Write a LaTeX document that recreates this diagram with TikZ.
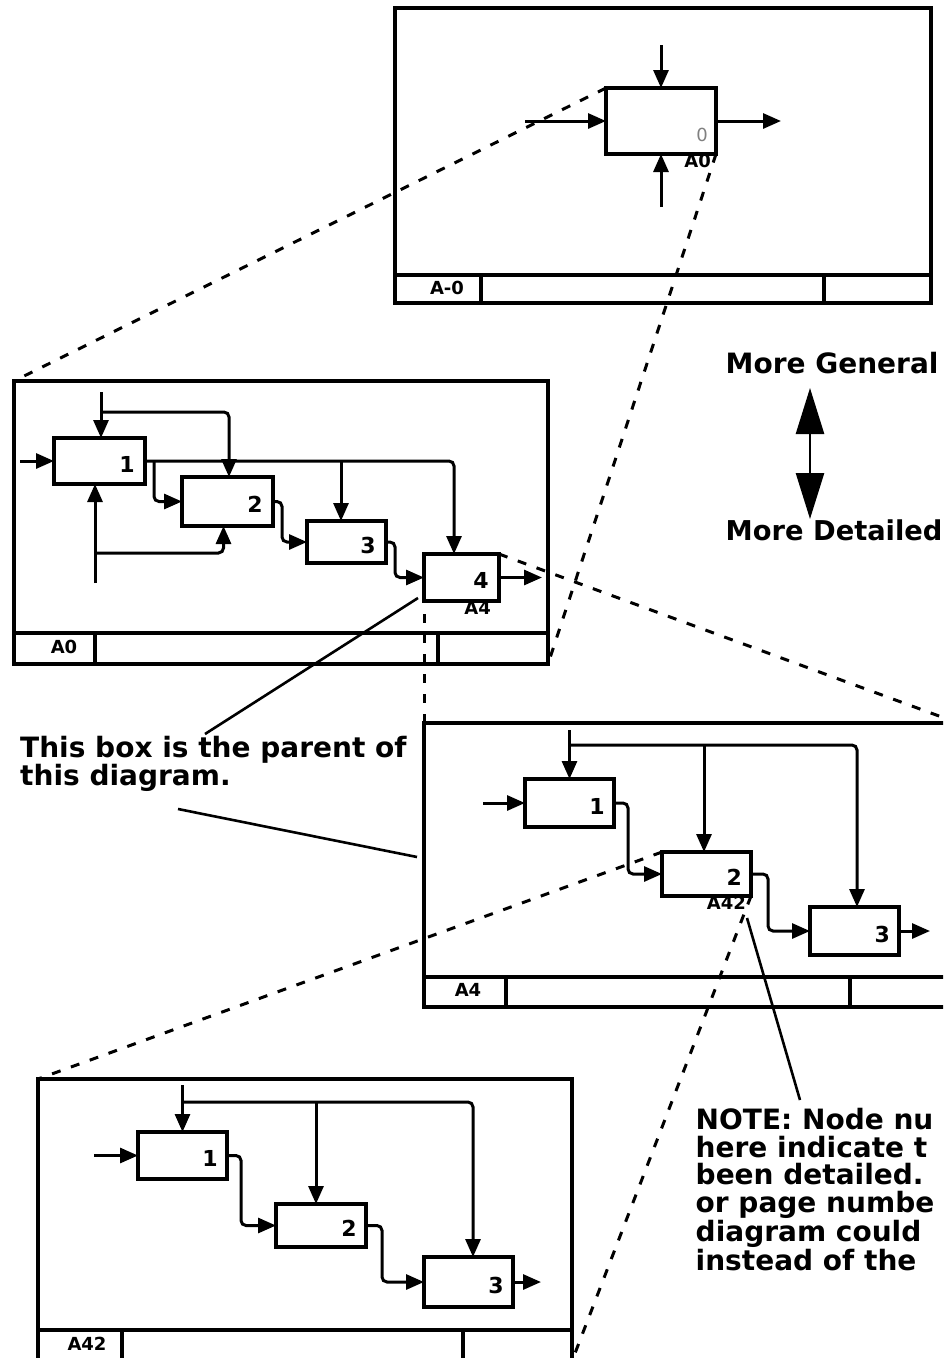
\documentclass[tikz,border=0pt]{standalone}
\usepackage{fontspec}
\setmainfont{DejaVu Sans}
\usetikzlibrary{arrows.meta}

\newcommand{\notefont}{\fontsize{28}{28}\selectfont\bfseries}
\newcommand{\numfont}{\fontsize{22}{22}\selectfont\bfseries}
\newcommand{\tagfont}{\fontsize{18}{18}\selectfont\bfseries}

\begin{document}
\begin{tikzpicture}[x=1pt, y=-1pt,
  sheet/.style={draw, line width=4pt, inner sep=0pt, outer sep=0pt},
  rule/.style={line width=4pt},
  fbox/.style={draw, line width=3.4pt, inner sep=0pt, outer sep=0pt},
  flow/.style={line width=3pt, rounded corners=5pt, -{Triangle[length=18pt,width=15pt]}},
  zoomline/.style={line width=3pt, dash pattern=on 9pt off 11pt},
  pointer/.style={line width=2.6pt},
  num/.style={font=\numfont, inner sep=0pt, anchor=east},
  tag/.style={font=\tagfont, inner sep=0pt},
  note/.style={font=\notefont, inner sep=0pt, anchor=base west}]
 \useasboundingbox (0,0) rectangle (943,1358);
 \clip (0,0) rectangle (943,1358);

 % the four sheets
 \node[sheet, minimum width=536pt, minimum height=295pt] (SHEETtop) at (663,155.5) {};
 \node[sheet, minimum width=534pt, minimum height=283pt] (SHEETA0) at (281,522.5) {};
 \node[sheet, minimum width=534pt, minimum height=284pt] (SHEETA4) at (691,865) {};
 \node[sheet, minimum width=534pt, minimum height=282pt] (SHEETA42) at (305,1220) {};

 \draw[rule] ([yshift=28pt]SHEETtop.south west) -- ([yshift=28pt]SHEETtop.south east);
 \draw[rule] ([xshift=86pt]SHEETtop.south west) -- ++(0,-28);
 \draw[rule] ([xshift=429pt]SHEETtop.south west) -- ++(0,-28);
 \draw[rule] ([yshift=31pt]SHEETA0.south west) -- ([yshift=31pt]SHEETA0.south east);
 \draw[rule] ([xshift=81pt]SHEETA0.south west) -- ++(0,-31);
 \draw[rule] ([xshift=424pt]SHEETA0.south west) -- ++(0,-31);
 \draw[rule] ([yshift=30pt]SHEETA4.south west) -- ([yshift=30pt]SHEETA4.south east);
 \draw[rule] ([xshift=82pt]SHEETA4.south west) -- ++(0,-30);
 \draw[rule] ([xshift=426pt]SHEETA4.south west) -- ++(0,-30);
 \draw[rule] ([yshift=31pt]SHEETA42.south west) -- ([yshift=31pt]SHEETA42.south east);
 \draw[rule] ([xshift=84pt]SHEETA42.south west) -- ++(0,-31);
 \draw[rule] ([xshift=425pt]SHEETA42.south west) -- ++(0,-31);

 \node[tag] (TAGtop) at (447,288) {A-0};
 \node[tag] (TAGA0) at (64,647) {A0};
 \node[tag] (TAGA4) at (468,990) {A4};
 \node[tag] (TAGA42) at (87,1344) {A42};

 % A-0 context box
 \node[fbox, minimum width=110pt, minimum height=66pt] (A0) at (661,121) {};
 \node[font=\fontsize{18}{18}\selectfont, text=gray, inner sep=0pt, anchor=east] (A0n) at ([xshift=-8pt,yshift=-14pt]A0.east) {0};
 \node[tag, anchor=north east] (A0c) at ([xshift=-5pt]A0.south east) {A0};
 \coordinate (A0in) at (525,121);
 \coordinate (A0out) at (781,121);
 \coordinate (A0ctl) at (661,45);
 \coordinate (A0mec) at (661,207);
 \draw[flow] (A0in) -- (A0.west);
 \draw[flow] (A0.east) -- (A0out);
 \draw[flow] (A0ctl) -- (A0.north);
 \draw[flow] (A0mec) -- (A0.south);

 % A0 diagram
 \node[fbox, minimum width=91pt, minimum height=46pt] (A1) at (99.5,461) {};
 \node[fbox, minimum width=91pt, minimum height=49pt] (A2) at (227.5,501.5) {};
 \node[fbox, minimum width=79pt, minimum height=42pt] (A3) at (346.5,542) {};
 \node[fbox, minimum width=75pt, minimum height=47pt] (A4) at (461.5,577.5) {};
 \node[num] (A1n) at ([xshift=-10pt,yshift=-3pt]A1.east) {1};
 \node[num] (A2n) at ([xshift=-10pt,yshift=-3pt]A2.east) {2};
 \node[num] (A3n) at ([xshift=-10pt,yshift=-3pt]A3.east) {3};
 \node[num] (A4n) at ([xshift=-10pt,yshift=-3pt]A4.east) {4};
 \node[tag, anchor=north east] (A4c) at ([xshift=-8pt]A4.south east) {A4};

 \coordinate (A1in) at (20,461);
 \coordinate (A1ctl) at (101,392);
 \coordinate (A1ctlj) at (101,412);
 \coordinate (A1oj) at (154,461);
 \coordinate (A1ok) at (341,461);
 \coordinate (A1mec) at (95,583);
 \coordinate (A1mecj) at (95,553);
 \coordinate (A4out) at (542,577.5);
 \draw[flow] (A1in) -- (A1.west);
 \draw[flow] (A1ctl) -- (A1ctl |- A1.north);
 \draw[flow] (A1ctlj) -| ([xshift=1.5pt]A2.north);
 \draw[flow] (A1.east) -| ([xshift=-7.5pt]A4.north);
 \draw[flow] (A1oj) |- (A2.west);
 \draw[flow] (A1ok) -- (A1ok |- A3.north);
 \draw[flow] (A2.east) -- ++(9,0) |- (A3.west);
 \draw[flow] (A3.east) -- ++(9,0) |- (A4.west);
 \draw[flow] (A4.east) -- (A4out);
 \draw[flow] (A1mec) -- (A1mec |- A1.south);
 \draw[flow] (A1mecj) -| ([xshift=-4pt]A2.south);

 % A4 diagram
 \node[fbox, minimum width=89pt, minimum height=48pt] (A41) at (569.5,803) {};
 \node[fbox, minimum width=89pt, minimum height=44pt] (A42) at (706.5,874) {};
 \node[fbox, minimum width=89pt, minimum height=48pt] (A43) at (854.5,931) {};
 \node[num] (A41n) at ([xshift=-9pt,yshift=-3pt]A41.east) {1};
 \node[num] (A42n) at ([xshift=-9pt,yshift=-3pt]A42.east) {2};
 \node[num] (A43n) at ([xshift=-9pt,yshift=-3pt]A43.east) {3};
 \node[tag, anchor=north east] (A42c) at ([xshift=-5pt]A42.south east) {A42};

 \coordinate (A41in) at (483,803);
 \coordinate (A41ctl) at (569.5,730);
 \coordinate (A41ctlj) at (569.5,745);
 \coordinate (A41ctlk) at (704,745);
 \coordinate (A43out) at (930,931);
 \draw[flow] (A41in) -- (A41.west);
 \draw[flow] (A41ctl) -- (A41.north);
 \draw[flow] (A41ctlj) -| ([xshift=2.5pt]A43.north);
 \draw[flow] (A41ctlk) -- (A41ctlk |- A42.north);
 \draw[flow] (A41.east) -- ++(14,0) |- (A42.west);
 \draw[flow] (A42.east) -- ++(17,0) |- (A43.west);
 \draw[flow] (A43.east) -- (A43out);

 % A42 diagram
 \node[fbox, minimum width=89pt, minimum height=47pt] (A421) at (182.5,1155.5) {};
 \node[fbox, minimum width=90pt, minimum height=43pt] (A422) at (321,1225.5) {};
 \node[fbox, minimum width=89pt, minimum height=50pt] (A423) at (468.5,1282) {};
 \node[num] (A421n) at ([xshift=-9pt,yshift=-3pt]A421.east) {1};
 \node[num] (A422n) at ([xshift=-9pt,yshift=-3pt]A422.east) {2};
 \node[num] (A423n) at ([xshift=-9pt,yshift=-3pt]A423.east) {3};

 \coordinate (A421in) at (94,1155.5);
 \coordinate (A421ctl) at (182.5,1085);
 \coordinate (A421ctlj) at (182.5,1102);
 \coordinate (A421ctlk) at (316,1102);
 \coordinate (A423out) at (541,1282);
 \draw[flow] (A421in) -- (A421.west);
 \draw[flow] (A421ctl) -- (A421.north);
 \draw[flow] (A421ctlj) -| ([xshift=4.5pt]A423.north);
 \draw[flow] (A421ctlk) -- (A421ctlk |- A422.north);
 \draw[flow] (A421.east) -- ++(14,0) |- (A422.west);
 \draw[flow] (A422.east) -- ++(16,0) |- (A423.west);
 \draw[flow] (A423.east) -- (A423out);

 % parent box to child diagram
 \draw[zoomline] (A0.north west) -- (SHEETA0.north west);
 \draw[zoomline] (A0.south east) -- (SHEETA0.south east);
 \draw[zoomline] (A4.north west) -- (SHEETA4.north west);
 \draw[zoomline] (A4.north east) -- (SHEETA4.north east);
 \draw[zoomline] (A42.north west) -- (SHEETA42.north west);
 \draw[zoomline] (A42.south east) -- (SHEETA42.south east);

 % notes
 \node[note] (T1) at (20,757) {This box is the parent of};
 \node[note] (T2) at (20,785) {this diagram.};
 \coordinate (P1) at (205,734);
 \coordinate (P2a) at (178,809);
 \coordinate (P2b) at (417,857);
 \draw[pointer] ([xshift=-6pt,yshift=3pt]A4.south west) -- (P1);
 \draw[pointer] (P2a) -- (P2b);

 \node[note] (GEN) at (725.5,373) {More General};
 \node[note, font=\fontsize{27.3}{28}\selectfont\bfseries] (DET) at (725.5,540) {More Detailed};
 \coordinate (UP) at (810,388);
 \coordinate (DN) at (810,519);
 \draw[line width=2.6pt, {Triangle[length=46pt,width=28pt]}-{Triangle[length=46pt,width=28pt]}] (UP) -- (DN);

 \node[note] (N1) at (695.5,1129) {NOTE: Node nu};
 \node[note] (N2) at (695.5,1157) {here indicate t};
 \node[note] (N3) at (695.5,1184) {been detailed.};
 \node[note] (N4) at (695.5,1212) {or page numbe};
 \node[note] (N5) at (695.5,1241) {diagram could};
 \node[note] (N6) at (695.5,1270) {instead of the};
 \coordinate (P3a) at (747,918);
 \coordinate (P3b) at (800,1100);
 \draw[pointer] (P3a) -- (P3b);
\end{tikzpicture}
\end{document}
